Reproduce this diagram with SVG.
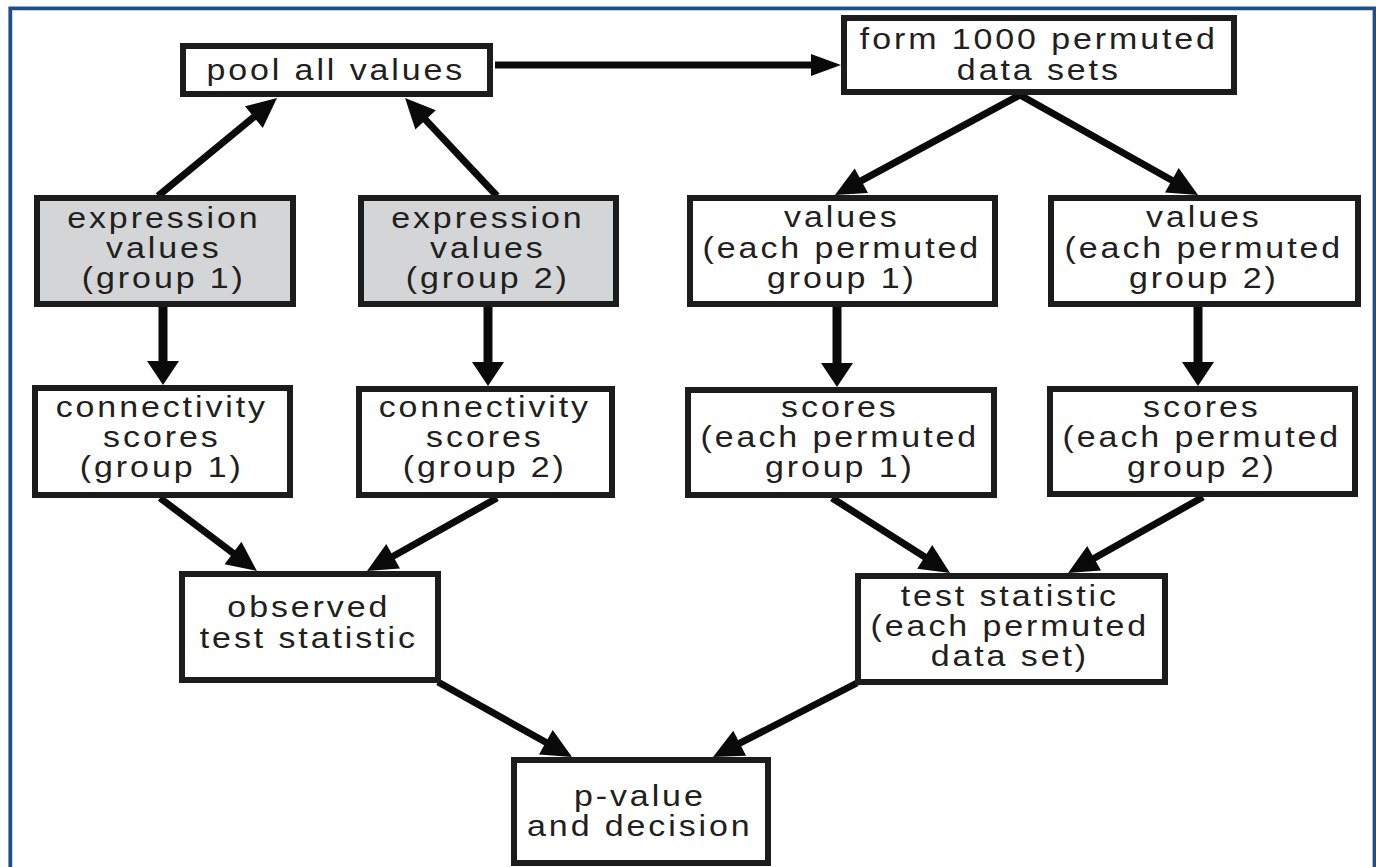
<svg xmlns="http://www.w3.org/2000/svg" width="1376" height="867" viewBox="0 0 1376 867">
<style>
.bx{fill:#fff;stroke:#1c1c1c;stroke-width:6}
.gr{fill:#d3d5d7}
.t{font-family:"Liberation Sans",Arial,Helvetica,sans-serif;font-size:29px;letter-spacing:2.5px;fill:#202020;text-anchor:middle}
.c{stroke:#0a0a0a;stroke-width:7;fill:none}
.cv{stroke-width:9}
</style>
<defs>
<marker id="hd" markerUnits="userSpaceOnUse" orient="auto" refX="2" refY="0" markerWidth="34" markerHeight="32" overflow="visible"><path d="M0,-14 L30,0 L0,14 Z" fill="#0a0a0a"/></marker>
<marker id="hv" markerUnits="userSpaceOnUse" orient="auto" refX="2" refY="0" markerWidth="30" markerHeight="34" overflow="visible"><path d="M0,-16 L24,0 L0,16 Z" fill="#0a0a0a"/></marker>
<marker id="hh" markerUnits="userSpaceOnUse" orient="auto" refX="2" refY="0" markerWidth="34" markerHeight="30" overflow="visible"><path d="M0,-11 L30,0 L0,11 Z" fill="#0a0a0a"/></marker>
</defs>
<rect width="1376" height="867" fill="#fff"/>
<path d="M10.3,867 V8.4 H1374.5 V867" fill="none" stroke="#1f4e89" stroke-width="3.8"/>

<g id="connectors">
<line class="c" x1="158" y1="196" x2="255.4" y2="115.8" marker-end="url(#hd)"/>
<line class="c" x1="497" y1="196" x2="424.2" y2="118.4" marker-end="url(#hd)"/>
<line class="c" x1="495" y1="65" x2="813" y2="65" marker-end="url(#hh)"/>
<line class="c" x1="1020" y1="95" x2="859.6" y2="181.7" marker-end="url(#hd)"/>
<line class="c" x1="1020" y1="95" x2="1173.6" y2="181.3" marker-end="url(#hd)"/>
<line class="c cv" x1="163" y1="307" x2="163" y2="363" marker-end="url(#hv)"/>
<line class="c cv" x1="488" y1="307" x2="488" y2="364" marker-end="url(#hv)"/>
<line class="c cv" x1="837" y1="307" x2="837" y2="365" marker-end="url(#hv)"/>
<line class="c cv" x1="1198" y1="307" x2="1198" y2="364" marker-end="url(#hv)"/>
<line class="c" x1="160" y1="498" x2="234.6" y2="554.2" marker-end="url(#hd)"/>
<line class="c" x1="497" y1="498" x2="391.4" y2="557.3" marker-end="url(#hd)"/>
<line class="c" x1="832" y1="498" x2="926.4" y2="558" marker-end="url(#hd)"/>
<line class="c" x1="1203" y1="497" x2="1092.4" y2="559.3" marker-end="url(#hd)"/>
<line class="c" x1="438" y1="682" x2="547.6" y2="743.3" marker-end="url(#hd)"/>
<line class="c" x1="857" y1="683" x2="737.9" y2="744.2" marker-end="url(#hd)"/>
</g>

<g id="pool">
<rect class="bx" x="183" y="46" width="307" height="48"/>
<g transform="translate(337 0) scale(1.17 1)"><text class="t" x="-1" y="80">pool all values</text></g>
</g>
<g id="form">
<rect class="bx" x="844" y="18" width="390" height="74"/>
<g transform="translate(1040 0) scale(1.17 1)">
<text class="t" x="-1" y="49">form 1000 permuted</text>
<text class="t" x="-1" y="80">data sets</text>
</g>
</g>
<g id="expr1">
<rect class="bx gr" x="37" y="198" width="256" height="106"/>
<g transform="translate(165 0) scale(1.17 1)">
<text class="t" x="-1" y="228">expression</text>
<text class="t" x="-1" y="258">values</text>
<text class="t" x="-1" y="288">(group 1)</text>
</g>
</g>
<g id="expr2">
<rect class="bx gr" x="361" y="198" width="255" height="106"/>
<g transform="translate(489 0) scale(1.17 1)">
<text class="t" x="-1" y="228">expression</text>
<text class="t" x="-1" y="258">values</text>
<text class="t" x="-1" y="288">(group 2)</text>
</g>
</g>
<g id="values1">
<rect class="bx" x="690" y="198" width="305" height="106"/>
<g transform="translate(843 0) scale(1.17 1)">
<text class="t" x="-1" y="227">values</text>
<text class="t" x="-1" y="258">(each permuted</text>
<text class="t" x="-1" y="288">group 1)</text>
</g>
</g>
<g id="values2">
<rect class="bx" x="1051" y="198" width="307" height="106"/>
<g transform="translate(1205 0) scale(1.17 1)">
<text class="t" x="-1" y="227">values</text>
<text class="t" x="-1" y="258">(each permuted</text>
<text class="t" x="-1" y="288">group 2)</text>
</g>
</g>
<g id="conn1">
<rect class="bx" x="35" y="388" width="255" height="107"/>
<g transform="translate(163 0) scale(1.17 1)">
<text class="t" x="-1" y="417">connectivity</text>
<text class="t" x="-1" y="447">scores</text>
<text class="t" x="-1" y="477">(group 1)</text>
</g>
</g>
<g id="conn2">
<rect class="bx" x="359" y="389" width="253" height="106"/>
<g transform="translate(486 0) scale(1.17 1)">
<text class="t" x="-1" y="417">connectivity</text>
<text class="t" x="-1" y="447">scores</text>
<text class="t" x="-1" y="477">(group 2)</text>
</g>
</g>
<g id="scores1">
<rect class="bx" x="688" y="390" width="306" height="105"/>
<g transform="translate(841 0) scale(1.17 1)">
<text class="t" x="-1" y="417">scores</text>
<text class="t" x="-1" y="447">(each permuted</text>
<text class="t" x="-1" y="477">group 1)</text>
</g>
</g>
<g id="scores2">
<rect class="bx" x="1050" y="389" width="305" height="105"/>
<g transform="translate(1203 0) scale(1.17 1)">
<text class="t" x="-1" y="417">scores</text>
<text class="t" x="-1" y="447">(each permuted</text>
<text class="t" x="-1" y="477">group 2)</text>
</g>
</g>
<g id="observed">
<rect class="bx" x="182" y="574" width="256" height="106"/>
<g transform="translate(310 0) scale(1.17 1)">
<text class="t" x="-1" y="617">observed</text>
<text class="t" x="-1" y="648">test statistic</text>
</g>
</g>
<g id="teststat">
<rect class="bx" x="858" y="576" width="307" height="106"/>
<g transform="translate(1011 0) scale(1.17 1)">
<text class="t" x="-1" y="606">test statistic</text>
<text class="t" x="-1" y="636">(each permuted</text>
<text class="t" x="-1" y="666">data set)</text>
</g>
</g>
<g id="pvalue">
<rect class="bx" x="514" y="760" width="254" height="103"/>
<g transform="translate(641 0) scale(1.17 1)">
<text class="t" x="-1" y="806">p-value</text>
<text class="t" x="-1" y="836">and decision</text>
</g>
</g>
</svg>
